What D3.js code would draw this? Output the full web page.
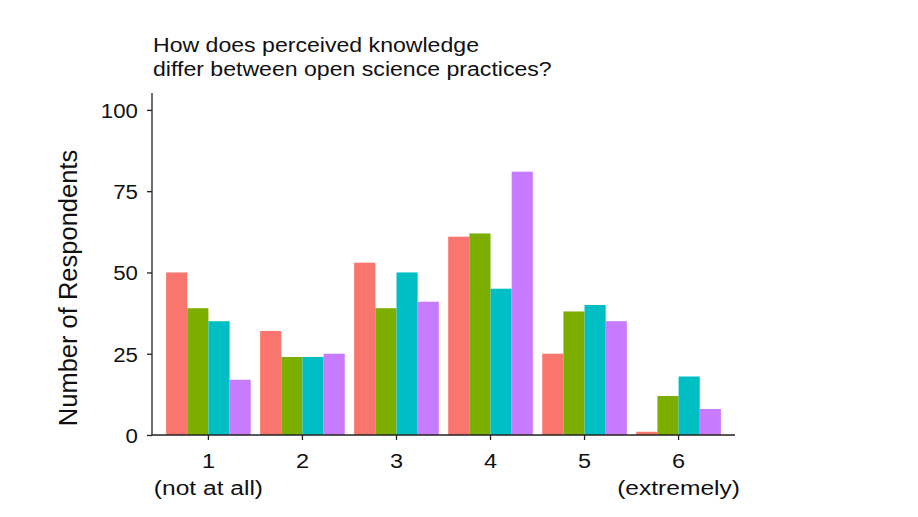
<!DOCTYPE html>
<html><head><meta charset="utf-8">
<script src="https://cdn.jsdelivr.net/npm/d3@7"></script>
<style>body{margin:0;background:#fff}svg{display:block}text{font-family:"Liberation Sans",Arial,sans-serif}</style>
</head><body>
<script>
const categories = ["1","2","3","4","5","6"];
const subLabels = ["(not at all)","","","","","(extremely)"];
const series = ["A","B","C","D"];
const colors = ["#F8766D","#7CAE00","#00BFC4","#C77CFF"];
const valuesA = [50,32,53,61,25,1];
const valuesB = [39,24,39,62,38,12];
const valuesC = [35,24,50,45,40,18];
const valuesD = [17,25,41,81,35,8];
const yTicks = [0,25,50,75,100];
const allValues = [valuesA,valuesB,valuesC,valuesD];

const W=918,H=517;
const FONT="Liberation Sans, Arial, sans-serif";
const svg=d3.select("body").append("svg").attr("width",W).attr("height",H);
const mL=152,mR=735,mT=93,mB=435;
const x=d3.scaleBand().domain(categories).range([mL,mR]).paddingOuter(0.15).paddingInner(0.1);
const y=d3.scaleLinear().domain([0,105.2]).range([mB,mT]);
const xs=d3.scaleBand().domain(series).range([0,x.bandwidth()]);

const data=[];
categories.forEach((c,i)=>series.forEach((s,j)=>data.push({c,s,j,v:allValues[j][i]})));
svg.append("g").selectAll("rect").data(data).join("rect")
 .attr("x",d=>x(d.c)+xs(d.s)).attr("width",xs.bandwidth())
 .attr("y",d=>y(d.v)).attr("height",d=>y(0)-y(d.v)).attr("fill",d=>colors[d.j]);

const ya=svg.append("g").attr("transform",`translate(${mL},0)`).call(d3.axisLeft(y).tickValues(yTicks).tickSize(5).tickPadding(4));
ya.select(".domain").attr("d",`M0,${mT}V${mB}`).attr("stroke","#222").attr("stroke-width",1.3);
ya.selectAll(".tick line").attr("stroke","#222").attr("stroke-width",1.3);
ya.selectAll(".tick text").attr("font-size",21).attr("fill","#111").attr("font-family",FONT)
  .attr("x",null).attr("dy",null).attr("transform","translate(-14,7.5) scale(1.06,1)");

const xa=svg.append("g").attr("transform",`translate(0,${mB})`).call(d3.axisBottom(x).tickSize(5).tickPadding(4));
xa.select(".domain").attr("d",`M${mL},0H${mR}`).attr("stroke","#222").attr("stroke-width",1.3);
xa.selectAll(".tick line").attr("stroke","#222").attr("stroke-width",1.3);
xa.selectAll(".tick text").attr("font-size",21).attr("fill","#111").attr("font-family",FONT)
  .attr("y",null).attr("dy",null).attr("transform","translate(0,33) scale(1.12,1)");
xa.selectAll(".tick").append("text").attr("text-anchor","middle").attr("font-size",21).attr("fill","#111")
 .attr("font-family",FONT).attr("transform","translate(0,60) scale(1.17,1)").text((d,i)=>subLabels[i]);

svg.append("text").attr("transform",`translate(77,288) rotate(-90) scale(1,1.0)`).attr("text-anchor","middle")
 .attr("font-size",25.5).attr("fill","#111").text("Number of Respondents");

const t=svg.append("text").attr("transform","translate(153,0) scale(1.1,1)").attr("font-size",21).attr("fill","#111");
t.append("tspan").attr("x",0).attr("y",52).text("How does perceived knowledge");
t.append("tspan").attr("x",0).attr("y",76).text("differ between open science practices?");
</script>
</body></html>
